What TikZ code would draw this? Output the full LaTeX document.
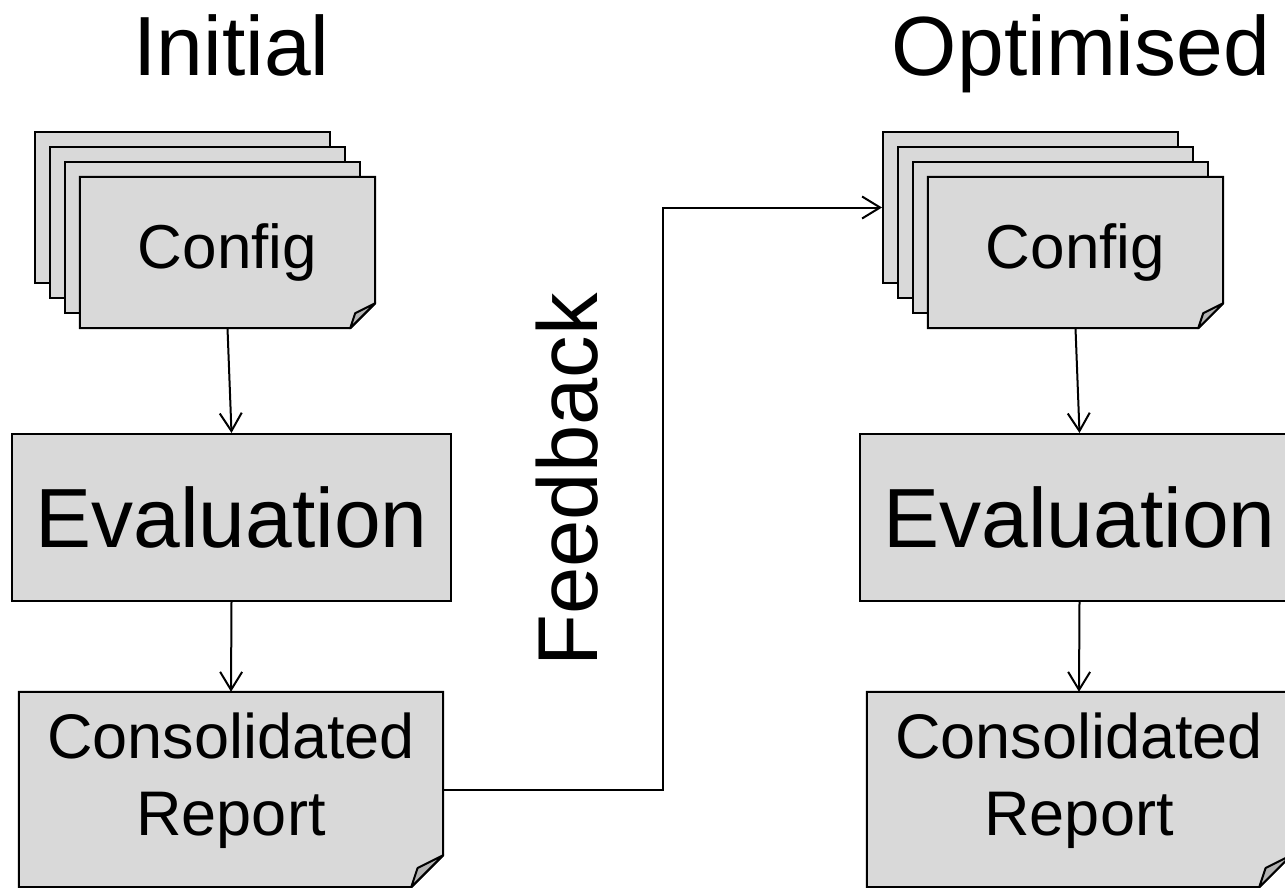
\documentclass[tikz,border=0pt]{standalone}
\usepackage{fontspec}
\setmainfont{Liberation Sans}
\usetikzlibrary{arrows.meta}

\definecolor{pagefill}{HTML}{D9D9D9}
\definecolor{flapfill}{HTML}{B3B3B3}

\tikzset{
  sheet/.style={minimum width=295pt, minimum height=151pt, inner sep=0pt},
  backsheet/.style={sheet, draw=black, line width=2pt, fill=pagefill},
  frontsheet/.style={sheet, fill=pagefill, font=\fontsize{62}{74}\selectfont},
  evalbox/.style={minimum width=439pt, minimum height=167pt, inner sep=0pt,
    draw=black, line width=2pt, fill=pagefill, font=\fontsize{84}{100}\selectfont},
  report/.style={minimum width=424pt, minimum height=195pt, inner sep=0pt, fill=pagefill},
  reporttext/.style={align=center, font=\fontsize{63}{77}\selectfont},
  outline/.style={draw=black, line width=2pt, line join=miter},
  flap/.style={draw=black, line width=2pt, fill=flapfill, line join=round},
  flow/.style={draw=black, line width=2pt, -{Straight Barb[length=18pt,width=22pt]}},
  title/.style={anchor=base, font=\fontsize{84}{100}\selectfont},
  sidelabel/.style={rotate=90, font=\fontsize{85}{100}\selectfont},
}

% border of a page whose lower right corner is folded over
\newcommand\foldedpage[2]{%
  \fill[white] ([xshift=-#2]#1.south east) -- (#1.south east) -- ([yshift=#2]#1.south east) -- cycle;
  \draw[outline] (#1.north west) -- (#1.north east) -- ([yshift=#2]#1.south east)
    -- ([xshift=-#2]#1.south east) -- (#1.south west) -- cycle;
  \draw[flap] ([xshift=-#2]#1.south east) -- ([xshift=-0.8*#2, yshift=0.6*#2]#1.south east)
    -- ([yshift=#2]#1.south east) -- cycle;
}

\begin{document}
\begin{tikzpicture}[x=1pt,y=-1pt]
\useasboundingbox (0,0) rectangle (1285,888);
\clip (0,0) rectangle (1285,888);

% column headings
\node[title] (tinit) at (231.5,75.5) {Initial};
\node[title] (topt) at (1081,75.5) {Optimised};

% initial run
\node[backsheet] (cfgLa) at (182.5,207.5) {};
\node[backsheet] (cfgLb) at (197.5,222.5) {};
\node[backsheet] (cfgLc) at (212.5,237.5) {};
\node[frontsheet] (cfgL) at (227.5,252.5) {Config};
\foldedpage{cfgL}{25pt}

\node[evalbox] (evalL) at (231.5,517.5) {Evaluation};

\node[report, label={[reporttext, yshift=9pt]center:{Consolidated\\Report}}] (repL) at (231,789.5) {};
\foldedpage{repL}{32pt}

% optimised run
\node[backsheet] (cfgRa) at (1030.5,207.5) {};
\node[backsheet] (cfgRb) at (1045.5,222.5) {};
\node[backsheet] (cfgRc) at (1060.5,237.5) {};
\node[frontsheet] (cfgR) at (1075.5,252.5) {Config};
\foldedpage{cfgR}{25pt}

\node[evalbox] (evalR) at (1079.5,517.5) {Evaluation};

\node[report, label={[reporttext, yshift=9pt]center:{Consolidated\\Report}}] (repR) at (1079,789.5) {};
\foldedpage{repR}{32pt}

% flow within each run
\draw[flow] (cfgL.south) -- (evalL.north);
\draw[flow] (evalL.south) -- (repL.north);
\draw[flow] (cfgR.south) -- (evalR.north);
\draw[flow] (evalR.south) -- (repR.north);

% feedback loop
\node[sidelabel] (fb) at (567,480) {Feedback};
\draw[flow] (repL.east) -- ++(220,0) |- (cfgRa.west);
\end{tikzpicture}
\end{document}
